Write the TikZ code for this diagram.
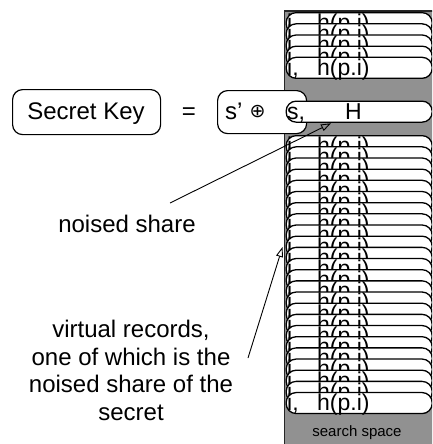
\documentclass[tikz,border=0pt]{standalone}
\usepackage{fontspec}
\setmainfont{Liberation Sans}
\newfontfamily\symfont{DejaVu Sans}
\usetikzlibrary{arrows.meta,calc}
\definecolor{colgray}{RGB}{145,145,145}
\begin{document}
\begin{tikzpicture}[x=1pt,y=-1pt,
  rec/.style={draw=black, fill=white, line width=1.3pt, rounded corners=10pt, minimum width=146pt, minimum height=21pt, inner sep=0pt, anchor=north west},
  rtext/.style={font=\fontsize{23}{23}\selectfont, inner sep=0pt, anchor=base west},
  lbl/.style={font=\fontsize{24}{27.7}\selectfont, align=center, inner sep=0pt},
  keybox/.style={draw=black, fill=white, line width=1.2pt, rounded corners=10pt, inner sep=0pt, anchor=north west},
  conn/.style={line width=0.9pt, -{Triangle[open, length=10pt, width=7pt]}}]
\useasboundingbox (0,0) rectangle (432,444);
\clip (0,0) rectangle (432,444);
% search-space column
\node[fill=colgray, draw=black!85, line width=1.8pt, minimum width=160pt, minimum height=450pt, anchor=north west, inner sep=0pt] (col) at (283.5,10) {};
% top group of records
\foreach \k in {0,...,4}{
  \pgfmathsetmacro\t{12+11.17*\k}
  \node[rec] (t\k) at (285.5,\t) {};
  \node[rtext] (ti\k) at ($(t\k.north west)+(1.5,18.5)$) {i,};
  \node[rtext] (th\k) at ($(t\k.north west)+(31.5,18.5)$) {h(p.i)};
}
% secret key
\node[keybox, minimum width=148pt, minimum height=45pt] (sk) at (12,89) {};
\node[lbl, anchor=base] (skt) at (86,119.5) {Secret Key};
\node[lbl, anchor=base] (eq) at (189,119.5) {=};
\node[keybox, minimum width=89pt, minimum height=43pt] (sp) at (217,90) {};
\node[lbl, anchor=base west] (spt) at (225,119) {s’};
\node[font=\symfont\fontsize{19}{19}\selectfont, inner sep=0pt] (xo) at (257.5,112) {⊕};
% noised share record
\node[rec] (sh) at (285.5,100.5) {};
\node[rtext] (shs) at ($(sh.north west)+(1.5,18.5)$) {s,};
\node[rtext] (shh) at ($(sh.north west)+(59.5,18.5)$) {H};
% lower group of records
\foreach \k in {0,...,23}{
  \pgfmathsetmacro\t{135+11.17*\k}
  \node[rec] (b\k) at (285.5,\t) {};
  \node[rtext] (bi\k) at ($(b\k.north west)+(1.5,18.5)$) {i,};
  \node[rtext] (bh\k) at ($(b\k.north west)+(31.5,18.5)$) {h(p.i)};
}
\node[font=\fontsize{15}{15}\selectfont, inner sep=0pt, anchor=base] (ss) at (357,436) {search space};
% labels
\node[lbl, anchor=base] (ns) at (127,232) {noised share};
\node[lbl, anchor=north] (vr) at (131,320) {virtual records,\\one of which is the\\noised share of the\\secret};
% connectors
\coordinate (a1) at (170,203);
\coordinate (a2) at (248,358);
\coordinate (a2t) at (282.5,247);
\draw[conn] (a1) -- ($(sh.south west)+(45.5,0.5)$);
\draw[conn] (a2) -- (a2t);
\end{tikzpicture}
\end{document}
